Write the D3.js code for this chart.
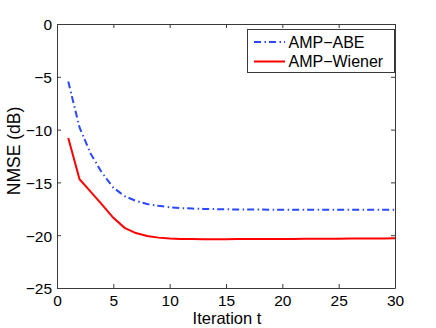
<!DOCTYPE html>
<html><head><meta charset="utf-8">
<script src="https://cdn.jsdelivr.net/npm/d3@7"></script>
<style>body{margin:0;background:#fff}svg{display:block}text{font-family:"Liberation Sans",Arial,Helvetica,sans-serif}</style>
</head><body><svg id="c" width="436" height="328"></svg>
<script>
const iterations = d3.range(1, 31);
const abe = [-5.45,-9.8,-12.3,-14.1,-15.5,-16.3,-16.75,-17.05,-17.22,-17.35,-17.43,-17.48,-17.51,-17.53,-17.55,-17.56,-17.57,-17.57,-17.58,-17.58,-17.58,-17.59,-17.59,-17.59,-17.59,-17.6,-17.6,-17.6,-17.6,-17.6];
const wiener = [-10.8,-14.7,-15.9,-17.1,-18.35,-19.3,-19.8,-20.08,-20.23,-20.31,-20.35,-20.37,-20.38,-20.38,-20.38,-20.37,-20.37,-20.36,-20.36,-20.35,-20.35,-20.34,-20.34,-20.33,-20.33,-20.32,-20.32,-20.31,-20.31,-20.3];
const xTicks = [0,5,10,15,20,25,30];
const yTicks = [0,-5,-10,-15,-20,-25];
const seriesNames = ["AMP\u2212ABE","AMP\u2212Wiener"];

const svg = d3.select("#c");
const L=57,R=395,T=24,B=288;
const x = d3.scaleLinear().domain([0,30]).range([L,R]);
const y = d3.scaleLinear().domain([-25,0]).range([B,T]);
const axisColor="#3a3a3a";

const g = svg.append("g");
const ax = g.append("g").attr("transform",`translate(0,${B})`).call(d3.axisBottom(x).tickValues(xTicks).tickSizeInner(-4).tickSizeOuter(0).tickPadding(7));
const axT = g.append("g").attr("transform",`translate(0,${T})`).call(d3.axisTop(x).tickValues(xTicks).tickSizeInner(-4).tickSizeOuter(0).tickFormat(""));
const ay = g.append("g").attr("transform",`translate(${L},0)`).call(d3.axisLeft(y).tickValues(yTicks).tickSizeInner(-4).tickSizeOuter(0).tickPadding(5).tickFormat(d=>d<0?"\u2212"+(-d):d));
const ayR = g.append("g").attr("transform",`translate(${R},0)`).call(d3.axisRight(y).tickValues(yTicks).tickSizeInner(-4).tickSizeOuter(0).tickFormat(""));
[ax,axT,ay,ayR].forEach(a=>{a.selectAll("path").attr("stroke",axisColor).attr("stroke-width",1);a.selectAll("line").attr("stroke",axisColor);a.selectAll("text").attr("font-size",15.5).attr("fill","#000").attr("font-family",'"Liberation Sans",Arial,sans-serif');});
ay.selectAll("text").attr("dy","0.38em");
ax.selectAll("text").attr("dy","0.7em");

const line = d3.line().x((d,i)=>x(iterations[i])).y(d=>y(d));
svg.append("path").datum(abe).attr("d",line).attr("fill","none").attr("stroke","#2a48ff").attr("stroke-width",2).attr("stroke-dasharray","7,3.5,1.5,3");
svg.append("path").datum(wiener).attr("d",line).attr("fill","none").attr("stroke","#ff0000").attr("stroke-width",2);

const lg = svg.append("g");
lg.append("rect").attr("x",247.5).attr("y",29.5).attr("width",147).attr("height",43).attr("fill","#fff").attr("stroke",axisColor).attr("stroke-width",1);
const styles=[{c:"#2a48ff",d:"7,3.5,1.5,3"},{c:"#ff0000",d:null}];
seriesNames.forEach((n,i)=>{
  const yy = 42 + i*19.5;
  lg.append("line").attr("x1",254).attr("x2",285).attr("y1",yy).attr("y2",yy).attr("stroke",styles[i].c).attr("stroke-width",2).attr("stroke-dasharray",styles[i].d);
  lg.append("text").attr("x",288.5).attr("y",yy+5.8).attr("font-size",16).text(n);
});

svg.append("text").attr("x",(L+R)/2+1).attr("y",324).attr("text-anchor","middle").attr("font-size",16.5).text("Iteration t");
svg.append("text").attr("transform",`translate(19.5,151) rotate(-90)`).attr("text-anchor","middle").attr("font-size",17.5).text("NMSE (dB)");
</script></body></html>
